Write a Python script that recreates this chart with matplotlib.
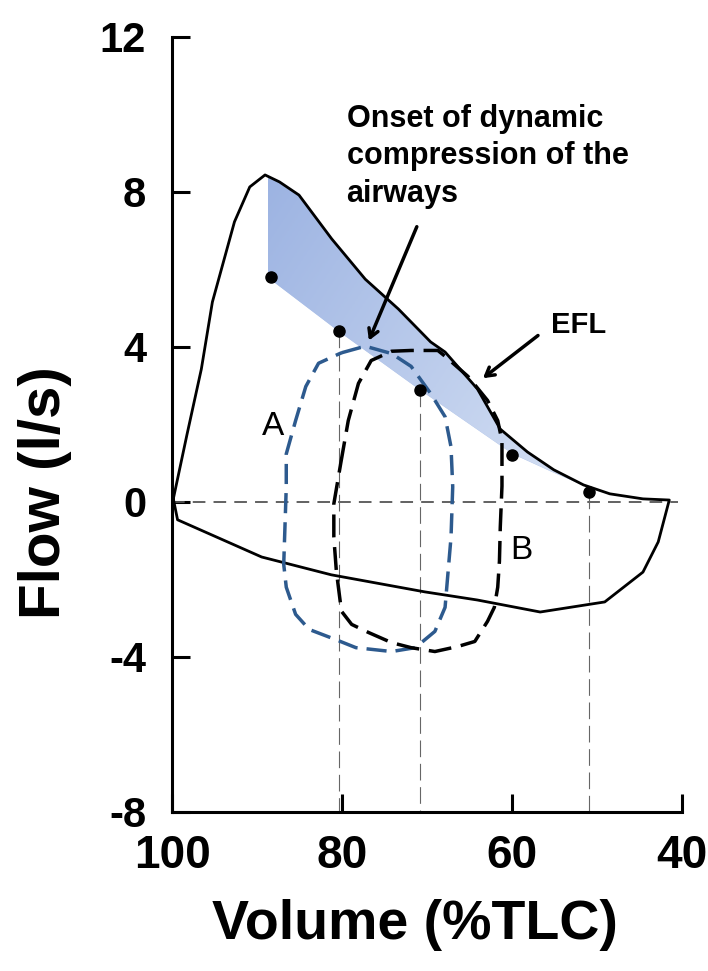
import numpy as np
import matplotlib.pyplot as plt
from matplotlib.colors import LinearSegmentedColormap

plt.rcParams['font.family'] = ['Liberation Sans', 'DejaVu Sans']
plt.rcParams['font.weight'] = 'bold'
plt.rcParams['axes.unicode_minus'] = False

# maximal flow-volume loop (expiration on top, inspiration below)
max_vol = [99.9, 98.3, 96.6, 95.3, 92.7, 90.9, 89.1, 87.4, 85.1, 81.25, 77.3, 73.4,
           69.6, 67.9, 64.1, 61.4, 58.2, 55.1, 51.6, 48.5, 44.6, 41.5,
           42.8, 44.6, 49.1, 56.7, 64.1, 70.3, 81.3, 89.5, 99.4, 99.9]
max_flow = [0.08, 1.73, 3.43, 5.16, 7.23, 8.13, 8.44, 8.26, 7.92, 6.79, 5.75, 4.98,
            4.13, 3.87, 2.92, 1.88, 1.29, 0.83, 0.44, 0.21, 0.08, 0.05,
            -1.03, -1.81, -2.58, -2.84, -2.53, -2.32, -1.88, -1.42, -0.46, 0.08]

# tidal loop A (blue) and B (black)
loop_a_vol = [80.1, 77.3, 74.2, 71.9, 69.6, 67.9, 67.2, 67.0, 67.2, 67.6, 67.9, 69.1,
              71.4, 74.2, 78.4, 80.8, 83.9, 85.5, 86.6, 86.9, 86.6, 86.6, 85.5, 84.3,
              82.8, 80.1]
loop_a_flow = [3.85, 4.02, 3.83, 3.50, 2.80, 2.20, 1.42, 0.39, -0.91, -1.94, -2.72, -3.34,
               -3.76, -3.86, -3.76, -3.55, -3.29, -2.90, -2.20, -1.61, 0.39, 1.24, 2.10, 2.98,
               3.58, 3.85]
loop_b_vol = [80.2, 79.3, 78.1, 76.6, 74.2, 71.9, 68.75, 67.9, 65.2, 62.9, 61.7, 61.2,
              61.2, 61.4, 61.5, 61.7, 62.1, 62.9, 64.4, 66.4, 69.1, 71.9, 74.2, 76.9,
              78.9, 80.1, 80.7, 81.0, 81.0, 80.2]
loop_b_flow = [0.98, 2.10, 3.06, 3.65, 3.89, 3.91, 3.91, 3.76, 3.24, 2.62, 2.10, 1.58,
               0.41, -0.65, -1.53, -2.20, -2.72, -3.08, -3.60, -3.73, -3.86, -3.76, -3.63, -3.37,
               -3.16, -2.82, -1.79, -0.91, -0.05, 0.98]

# points marking the onset of dynamic compression
dot_vol = [88.4, 80.4, 70.9, 60.0, 51.0]
dot_flow = [5.8, 4.4, 2.9, 1.2, 0.25]

# lower edge of the shaded area
shade_vol = [88.8, 80.4, 70.9, 60.0, 55.5, 51.5]
shade_flow = [5.8, 4.4, 2.9, 1.25, 0.8, 0.42]

# vertical guide lines
guide_vol = [80.4, 70.9, 51.0]
guide_top = [4.4, 2.9, 0.25]

fig = plt.figure(figsize=(7.08, 9.71), dpi=100)
ax = fig.add_axes([0.2436, 0.1638, 0.7197, 0.7981])

# shaded area between the envelope and the compression line
xs = np.linspace(shade_vol[-1], shade_vol[0], 300)
upper = np.interp(xs, max_vol[21::-1][:-1], max_flow[21::-1][:-1])
lower = np.interp(xs, shade_vol[::-1], shade_flow[::-1])
poly = ax.fill_between(xs, lower, upper, color='#b3c6ea', lw=0, zorder=1)
gx, gy = np.meshgrid(np.linspace(88.8, 51.5, 200), np.linspace(8.5, 0.3, 200))
grad = 0.6 * (88.8 - gx) / 37.3 + 0.4 * (8.5 - gy) / 8.2
cmap = LinearSegmentedColormap.from_list('shade', ['#9cb3e2', '#d6e1f4'])
im = ax.imshow(grad, extent=(88.8, 51.5, 0.3, 8.5), cmap=cmap, aspect='auto', zorder=1.1)
im.set_clip_path(poly.get_paths()[0], ax.transData)

# guide lines
ax.plot([100, 40.5], [0, 0], color='#555555', lw=1.3, dashes=(7, 4.5), zorder=2)
for v, t in zip(guide_vol, guide_top):
    ax.plot([v, v], [t, -8], color='#666666', lw=0.8, dashes=(15, 6), zorder=2)

ax.plot(max_vol, max_flow, color='black', lw=2.0, zorder=3)
ax.plot(loop_a_vol, loop_a_flow, color='#2d5a8e', lw=2.5, dashes=(5.8, 2.6), zorder=4)
ax.plot(loop_b_vol, loop_b_flow, color='black', lw=2.5, dashes=(6.6, 2.8), zorder=4)
ax.plot(dot_vol, dot_flow, 'o', color='black', ms=8, zorder=5)

ax.annotate('', xy=(77.0, 4.10), xytext=(71.1, 7.17),
            arrowprops=dict(arrowstyle='->,head_length=0.6,head_width=0.35', lw=2.5, color='black'))
ax.annotate('', xy=(63.7, 3.15), xytext=(56.7, 4.34),
            arrowprops=dict(arrowstyle='->,head_length=0.6,head_width=0.35', lw=2.5, color='black'))

ax.text(79.5, 10.27, 'Onset of dynamic\ncompression of the\nairways', fontsize=22,
        ha='left', va='top', linespacing=1.32)
ax.text(52.2, 4.56, 'EFL', fontsize=21, ha='center', va='center')
ax.text(88.2, 1.94, 'A', fontsize=24, fontweight='normal', ha='center', va='center')
ax.text(58.9, -1.24, 'B', fontsize=24, fontweight='normal', ha='center', va='center')

ax.set_xlim(100, 40)
ax.set_ylim(-8, 12)
ax.set_xticks([100, 80, 60, 40])
ax.set_yticks([12, 8, 4, 0, -4, -8])
ax.tick_params(direction='in', length=13, width=2.2)
ax.tick_params(axis='x', labelsize=33, pad=16)
ax.tick_params(axis='y', labelsize=30, pad=19)
for side in ['top', 'right']:
    ax.spines[side].set_visible(False)
for side in ['left', 'bottom']:
    ax.spines[side].set_linewidth(2.2)

fig.text(45 / 708, 1 - 493 / 971, 'Flow (l/s)', fontsize=42, rotation=90, ha='center', va='center')
fig.text(415 / 708, 1 - 925 / 971, 'Volume (%TLC)', fontsize=40, ha='center', va='center')

fig.savefig('out.png', dpi=100)
